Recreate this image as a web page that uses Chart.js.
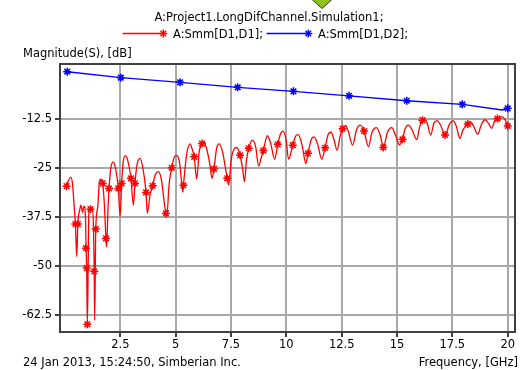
<!DOCTYPE html>
<html>
<head>
<meta charset="utf-8">
<script src="https://cdn.jsdelivr.net/npm/chart.js@4.4.0/dist/chart.umd.min.js"></script>
<style>
  html, body { margin: 0; padding: 0; background: #fff; }
  #wrap { position: relative; width: 531px; height: 370px; overflow: hidden;
          font-family: "DejaVu Sans", sans-serif; font-size: 11.5px; color: #000; }
  #wrap canvas { position: absolute; left: 0; top: 0; }
  .t { position: absolute; white-space: nowrap; line-height: 14px; }
  svg { position: absolute; left: 0; top: 0; }
</style>
</head>
<body>
<div id="wrap">
  <canvas id="c" width="531" height="370"></canvas>
  <svg width="531" height="60" viewBox="0 0 531 60">
    <polygon points="311.5,-1 332.5,-1 322,8.5" fill="#8fc21c" stroke="#2c3a10" stroke-width="1"/>
    <g stroke="#ff0000" stroke-width="1.4" fill="none">
      <line x1="122.5" y1="33.5" x2="162" y2="33.5"/>
      <line x1="159.3" y1="33.5" x2="167.3" y2="33.5"/>
      <line x1="163.3" y1="29.5" x2="163.3" y2="37.5"/>
      <line x1="160.5" y1="30.7" x2="166.1" y2="36.3"/>
      <line x1="160.5" y1="36.3" x2="166.1" y2="30.7"/>
    </g>
    <g stroke="#0000ff" stroke-width="1.4" fill="none">
      <line x1="266.5" y1="33.5" x2="307" y2="33.5"/>
      <line x1="304.3" y1="33.5" x2="312.3" y2="33.5"/>
      <line x1="308.3" y1="29.5" x2="308.3" y2="37.5"/>
      <line x1="305.5" y1="30.7" x2="311.1" y2="36.3"/>
      <line x1="305.5" y1="36.3" x2="311.1" y2="30.7"/>
    </g>
  </svg>
  <div class="t" style="left:0;width:538px;text-align:center;top:10px">A:Project1.LongDifChannel.Simulation1;</div>
  <div class="t" style="left:173px;top:27px">A:Smm[D1,D1];</div>
  <div class="t" style="left:318px;top:27px">A:Smm[D1,D2];</div>
  <div class="t" style="left:23px;top:46px">Magnitude(S), [dB]</div>
  <div class="t" style="left:23px;top:355px">24 Jan 2013, 15:24:50, Simberian Inc.</div>
  <div class="t" style="right:13px;top:355px">Frequency, [GHz]</div>
</div>

<script>
// Axis ticks and labels
const xTicks = [2.5, 5, 7.5, 10, 12.5, 15, 17.5, 20];
const xTickLabels = ['2.5', '5', '7.5', '10', '12.5', '15', '17.5', '20'];
const yTicks = [-12.5, -25, -37.5, -50, -62.5];
const yTickLabels = ['-12.5', '-25', '-37.5', '-50', '-62.5'];

// Smm[D1,D1] — frequency (GHz) and magnitude (dB)
const redFreq = [
  0.07, 0.16, 0.26, 0.34, 0.41, 0.47, 0.53, 0.58, 0.66, 0.72,
  0.79, 0.86, 0.93, 0.95, 0.98, 1.01, 1.05, 1.08, 1.15, 1.23,
  1.29, 1.32, 1.34, 1.39, 1.48, 1.55, 1.61, 1.70, 1.78, 1.85,
  1.88, 1.94, 1.99, 2.07, 2.18, 2.30, 2.41, 2.49, 2.56, 2.63,
  2.73, 2.85, 2.98, 3.09, 3.16, 3.25, 3.39, 3.52, 3.66, 3.72,
  3.84, 3.96, 4.09, 4.22, 4.36, 4.50, 4.56, 4.60, 4.70, 4.82,
  4.93, 5.04, 5.17, 5.26, 5.32, 5.35, 5.49, 5.65, 5.76, 5.84,
  5.95, 6.06, 6.19, 6.26, 6.39, 6.55, 6.64, 6.73, 6.85, 6.97,
  7.12, 7.25, 7.33, 7.39, 7.52, 7.64, 7.76, 7.91, 8.02, 8.11,
  8.20, 8.30, 8.46, 8.61, 8.75, 8.86, 8.96, 9.14, 9.29, 9.47,
  9.61, 9.73, 9.85, 9.99, 10.10, 10.29, 10.42, 10.54, 10.71, 10.88,
  10.98, 11.12, 11.25, 11.41, 11.60, 11.75, 11.88, 12.02, 12.16, 12.29,
  12.43, 12.54, 12.68, 12.81, 12.99, 13.17, 13.33, 13.51, 13.71, 13.87,
  14.07, 14.24, 14.38, 14.57, 14.76, 14.93, 15.11, 15.25, 15.36, 15.51,
  15.68, 15.89, 16.02, 16.15, 16.22, 16.36, 16.52, 16.67, 16.81, 16.97,
  17.17, 17.37, 17.55, 17.69, 17.84, 17.98, 18.20, 18.30, 18.46, 18.64,
  18.82, 18.98, 19.14, 19.28, 19.41, 19.54, 19.72, 19.86, 20.00
];
const redDb = [
  -29.6, -28.1, -27.3, -29.1, -34.5, -39.3, -47.6, -39.3, -35.8, -34.5,
  -36.3, -34.7, -38.3, -45.5, -50.6, -65.0, -48.6, -35.8, -35.5, -35.3,
  -40.9, -51.4, -64.0, -40.6, -34.9, -28.6, -27.8, -28.9, -34.5, -43.0,
  -45.2, -35.8, -30.2, -25.0, -23.4, -25.5, -30.2, -37.3, -28.9, -23.4,
  -21.8, -23.4, -27.6, -34.5, -28.9, -24.2, -22.5, -25.0, -31.2, -36.5,
  -31.9, -29.5, -26.5, -25.9, -28.1, -34.5, -36.6, -37.3, -29.3, -24.9,
  -22.3, -21.7, -23.4, -28.1, -31.1, -29.4, -21.7, -18.8, -20.4, -22.1,
  -27.8, -20.9, -18.7, -18.2, -19.9, -24.2, -27.6, -25.2, -19.9, -18.8,
  -20.9, -25.0, -27.6, -29.3, -22.4, -20.1, -19.7, -21.7, -25.0, -28.5,
  -22.9, -19.9, -17.8, -19.4, -24.5, -22.4, -20.5, -16.7, -18.6, -22.7,
  -18.9, -16.3, -15.5, -17.8, -22.7, -19.1, -16.8, -16.4, -19.1, -23.8,
  -21.2, -17.8, -17.0, -18.8, -22.7, -19.8, -16.5, -15.8, -17.8, -20.4,
  -16.8, -14.9, -14.1, -15.8, -19.1, -15.2, -14.0, -15.5, -19.5, -15.8,
  -14.6, -16.5, -19.7, -15.8, -14.6, -16.5, -19.0, -17.6, -15.0, -14.0,
  -15.2, -17.7, -14.5, -12.7, -12.3, -13.4, -16.5, -13.4, -12.8, -14.0,
  -16.5, -13.7, -12.9, -14.5, -17.4, -15.2, -13.7, -13.1, -14.2, -16.3,
  -13.7, -12.6, -13.6, -14.8, -12.9, -12.3, -11.8, -12.4, -14.2
];
// samples that carry a star marker
const redMarks = [0, 5, 7, 13, 14, 15, 18, 21, 23, 27, 29, 32, 36, 38, 42, 44, 48, 51, 56, 59,
  65, 69, 72, 77, 82, 87, 91, 96, 100, 105, 110, 115, 121, 127, 132, 137, 143, 150, 156, 165, 168];

// Smm[D1,D2]
const blueFreq = [0.10, 2.52, 5.20, 7.80, 10.32, 12.83, 15.44, 17.95, 19.75, 20.00];
const blueDb = [-0.3, -1.83, -3.01, -4.29, -5.32, -6.47, -7.73, -8.65, -10.1, -9.68];
const blueMarks = [0, 1, 2, 3, 4, 5, 6, 7, 9];

const toPoints = (xs, ys) => xs.map((x, i) => ({ x: x, y: ys[i] }));

const FONT = { family: 'DejaVu Sans', size: 11.5 };

// plot frame drawn around the whole data area
const framePlugin = {
  id: 'frame',
  afterDraw(chart) {
    const a = chart.chartArea, c = chart.ctx;
    c.save();
    c.strokeStyle = '#404040';
    c.lineWidth = 2;
    c.strokeRect(a.left, a.top, a.right - a.left, a.bottom - a.top);
    c.restore();
  }
};

new Chart(document.getElementById('c'), {
  type: 'line',
  data: {
    datasets: [
      {
        label: 'A:Smm[D1,D2];',
        data: toPoints(blueFreq, blueDb),
        borderColor: '#0000ff',
        backgroundColor: '#0000ff',
        borderWidth: 1.3,
        tension: 0,
        pointStyle: 'star',
        pointRadius: c => blueMarks.includes(c.dataIndex) ? 4 : 0,
        pointBorderWidth: 1.5,
        pointBorderColor: '#0000ff',
        pointHoverRadius: 0
      },
      {
        label: 'A:Smm[D1,D1];',
        data: toPoints(redFreq, redDb),
        borderColor: '#ff0000',
        backgroundColor: '#ff0000',
        borderWidth: 1.3,
        cubicInterpolationMode: 'monotone',
        pointStyle: 'star',
        pointRadius: c => redMarks.includes(c.dataIndex) ? 4 : 0,
        pointBorderWidth: 1.5,
        pointBorderColor: '#ff0000',
        pointHoverRadius: 0
      }
    ]
  },
  options: {
    responsive: false,
    animation: false,
    devicePixelRatio: 1,
    layout: { padding: { top: 64, right: 16, left: 0, bottom: 0 } },
    plugins: { legend: { display: false }, title: { display: false }, tooltip: { enabled: false } },
    scales: {
      x: {
        type: 'linear',
        min: -0.226,
        max: 20.33,
        afterBuildTicks: s => { s.ticks = xTicks.map(v => ({ value: v })); },
        afterFit: s => { s.height = 38; },
        ticks: {
          callback: (v, i) => xTickLabels[i],
          font: FONT, color: '#000', padding: 1, maxRotation: 0, autoSkip: false
        },
        grid: { color: '#a8a8a8', lineWidth: 2, tickColor: '#000', tickLength: 5, tickWidth: 1.5 },
        border: { color: '#404040', width: 2 }
      },
      y: {
        min: -66.96,
        max: 1.68,
        afterBuildTicks: s => { s.ticks = yTicks.map(v => ({ value: v })); },
        afterFit: s => { s.width = 60; },
        ticks: {
          callback: (v, i) => yTickLabels[i],
          font: FONT, color: '#000', padding: 3, autoSkip: false
        },
        grid: { color: '#a8a8a8', lineWidth: 2, tickColor: '#000', tickLength: 5, tickWidth: 1.5 },
        border: { color: '#404040', width: 2 }
      }
    }
  },
  plugins: [framePlugin]
});
</script>
</body>
</html>
